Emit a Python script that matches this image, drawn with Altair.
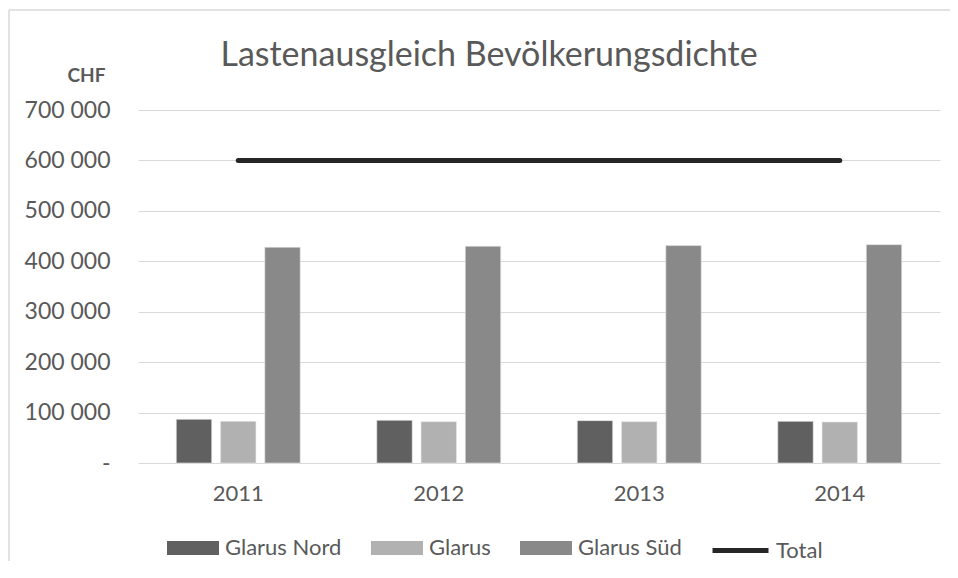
import altair as alt
import pandas as pd

years = ["2011", "2012", "2013", "2014"]
regions = ["Glarus Nord", "Glarus", "Glarus Süd"]
glarus_nord = [86600, 84600, 84000, 82600]
glarus = [82600, 82000, 82000, 81300]
glarus_sued = [427800, 429800, 431100, 433000]
total = [600000, 600000, 600000, 600000]
region_colors = ["#606060", "#b1b1b1", "#898989"]
title_text = ["Lastenausgleich Bevölkerungsdichte"]

rows = []
for i, y in enumerate(years):
    rows.append({"year": y, "region": "Glarus Nord", "value": glarus_nord[i]})
    rows.append({"year": y, "region": "Glarus", "value": glarus[i]})
    rows.append({"year": y, "region": "Glarus Süd", "value": glarus_sued[i]})
bars_df = pd.DataFrame(rows)
line_df = pd.DataFrame({"year": years, "value": total, "series": ["Total"] * len(years)})

FONT = "Lato"
TXT = "#595959"
LBL = 22

x_enc = alt.X(
    "year:N",
    sort=years,
    scale=alt.Scale(paddingInner=0.382, paddingOuter=0.191),
    axis=alt.Axis(title=None, labelAngle=0, ticks=False, domain=False,
                  labelPadding=20, labelFontSize=LBL, labelColor=TXT, labelFont=FONT,
                  grid=False),
)

y_scale = alt.Scale(domain=[0, 700000], nice=False)

bars = alt.Chart(bars_df).mark_bar(stroke="#e6e6e6", strokeWidth=0.6).encode(
    x=x_enc,
    xOffset=alt.XOffset("region:N", sort=regions,
                        scale=alt.Scale(domain=regions, paddingInner=0.2, paddingOuter=0)),
    y=alt.Y("value:Q", scale=y_scale,
            axis=alt.Axis(title="CHF", titleAngle=0, titleFontWeight="bold",
                          titleFontSize=19, titleColor=TXT, titleFont=FONT,
                          titleX=-33, titleY=-35, titleAlign="right", titleBaseline="middle",
                          values=[0, 100000, 200000, 300000, 400000, 500000, 600000, 700000],
                          labelExpr="datum.value == 0 ? '-' : replace(format(datum.value, ',d'), regexp(',', 'g'), ' ')",
                          labelFontSize=23, labelColor=TXT, labelFont=FONT, labelPadding=28,
                          ticks=False, domain=False, gridColor="#d9d9d9", gridWidth=1)),
    fill=alt.Fill("region:N", sort=regions,
                  scale=alt.Scale(domain=regions, range=region_colors),
                  legend=alt.Legend(title=None, orient="none", direction="horizontal",
                                    legendX=29, legendY=412, padding=0,
                                    symbolType="M-1,-0.27H1V0.27H-1Z", symbolSize=2704,
                                    symbolStrokeWidth=0, labelOffset=6, columnPadding=29,
                                    labelFontSize=LBL, labelColor=TXT, labelFont=FONT)),
)

line = alt.Chart(line_df).mark_line(strokeWidth=5, strokeCap="round").encode(
    x=alt.X("year:N", sort=years),
    y=alt.Y("value:Q", scale=y_scale),
    stroke=alt.Stroke("series:N", scale=alt.Scale(domain=["Total"], range=["#262626"]),
                      legend=alt.Legend(title=None, orient="none", direction="horizontal",
                                        legendX=572, legendY=410, padding=0,
                                        symbolType="stroke", symbolSize=3136,
                                        symbolStrokeWidth=5, labelOffset=5,
                                        labelBaseline="middle",
                                        labelFontSize=LBL, labelColor=TXT, labelFont=FONT)),
)

title = alt.Chart(pd.DataFrame({"t": title_text})).mark_text(
    font=FONT, fontSize=34, color=TXT, align="center", baseline="alphabetic"
).encode(text="t:N", x=alt.value(351), y=alt.value(-44))

frame_df = pd.DataFrame({"k": [0]})
border_top = alt.Chart(frame_df).mark_rule(stroke="#d9d9d9", strokeWidth=1.5).encode(
    x=alt.value(-129), x2=alt.value(812), y=alt.value(-100)
)
border_left = alt.Chart(frame_df).mark_rule(stroke="#d9d9d9", strokeWidth=1.5).encode(
    x=alt.value(-129), y=alt.value(-100), y2=alt.value(460)
)

chart = alt.layer(border_top, border_left, title, bars, line).resolve_scale(
    fill="independent", stroke="independent"
).properties(
    width=802,
    height=353,
    padding={"left": 130, "top": 102, "right": 10, "bottom": 98},
    autosize=alt.AutoSizeParams(type="none"),
).configure(background="white").configure_view(strokeWidth=0)

chart.save("out.html", embed_options={"renderer": "svg", "actions": False})
